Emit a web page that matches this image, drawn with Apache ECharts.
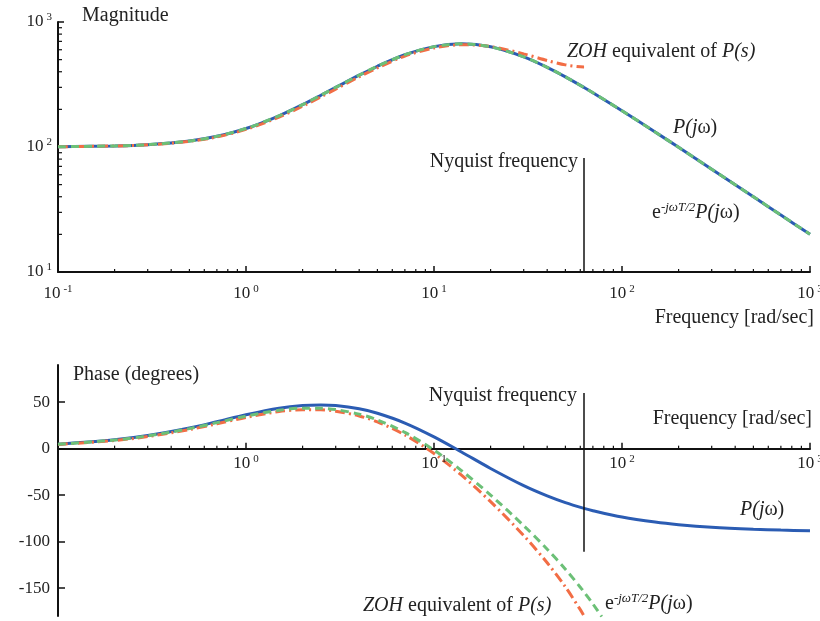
<!DOCTYPE html>
<html>
<head>
<meta charset="utf-8">
<script src="https://cdn.jsdelivr.net/npm/echarts@6/dist/echarts.min.js"></script>
<style>html,body{margin:0;padding:0;background:#fff}#c{width:820px;height:621px}</style>
</head>
<body>
<div id="c"></div>
<script>
// Frequencies (rad/sec) and values
const freqP = [0.1,0.2,0.3,0.5,0.7,1,1.5,2,2.5,3,4,5,7,10,14,20,30,40,50,62.83,70,100,150,200,300,500,700,1000];
const magP = [100.5,102.0,104.4,111.6,121.7,140.5,177.8,218.2,259.2,299.5,375.4,442.5,546.7,635.6,668.5,633,526.6,434,364,299.5,272,195,131.9,99.4,66.5,40.0,28.56,20.0];
const phaseP = [4.85,9.59,14.12,22.28,28.99,36.43,43.49,46.41,47.03,46.34,42.85,38.08,27.59,12.72,-3.54,-21.29,-39.79,-50.82,-58.04,-64.21,-66.74,-73.55,-78.98,-81.72,-84.47,-86.67,-87.62,-88.34];

const freqDelay = [0.1,0.2,0.3,0.5,0.7,1,1.5,2,2.5,3,4,5,7,10,14,20,30,40,50,60,62.83,70,78];
const phaseDelay = [4.71,9.30,13.69,21.56,27.99,35.00,41.34,43.55,43.45,42.04,37.12,30.92,17.56,-1.60,-23.59,-49.94,-82.76,-108.12,-129.66,-149.0,-154.2,-167.0,-180.7];

const freqZOH = [0.1,0.2,0.3,0.5,0.7,1,1.5,2,2.5,3,4,5,7,10,14,20,30,40,50,60,62.83];
const magZOH = [100.5,101.9,104.1,110.9,120.3,138.2,173.4,212.1,251.7,290.4,364.3,428.8,533.8,619.9,657.9,636.0,555.9,492.1,453.8,438.0,437.0];
const phaseZOH = [4.47,8.83,13.02,20.56,26.77,33.64,39.87,41.99,41.82,40.32,35.22,28.83,14.78,-5.23,-28.55,-57.0,-93.45,-122.78,-148.73,-173.18,-180.0];

const nyquist = 62.83;
const nyqMagSpan = [81.7, 10];
const nyqPhaseSpan = [60, -111];
const phaseTicks = [-150,-100,-50,0,50];

// tick values for the log axes
const minorFreqTicks = [0.2,0.3,0.4,0.5,0.6,0.7,0.8,0.9,2,3,4,5,6,7,8,9,20,30,40,50,60,70,80,90,200,300,400,500,600,700,800,900];
const minorMagTicks = [20,30,40,50,60,70,80,90,200,300,400,500,600,700,800,900];
const phaseFreqLabels = [1,10,100,1000];

const zip = (a,b) => a.map((v,i)=>[v,b[i]]);
const FONT = '"Liberation Serif", "Times New Roman", serif';
const BLUE = '#2b5cb3', GREEN = '#6cc077', ORANGE = '#f26d45';
const INK = '#111';

const powRich = {
  b: {fontFamily: FONT, fontSize: 17, color: '#222', lineHeight: 20},
  s: {fontFamily: FONT, fontSize: 11, color: '#222', verticalAlign: 'top', lineHeight: 12, padding: [0,0,0,3]}
};
const powFmt = v => '{b|10}{s|' + Math.round(Math.log10(v)) + '}';

function logX(grid, extra) {
  return Object.assign({
    type: 'log', logBase: 10, gridIndex: grid, min: 0.1, max: 1000,
    axisLine: {show: true, lineStyle: {color: INK, width: 2}},
    axisTick: {show: true, inside: true, length: 6, lineStyle: {color: INK, width: 1.5}},
    minorTick: {show: false},
    splitLine: {show: false},
    axisLabel: {formatter: powFmt, rich: powRich, margin: 12}
  }, extra || {});
}

// small tick marks drawn through the axes' own scales
function tickSeries(xi, yi, data, dx, dy) {
  return {
    type: 'custom', xAxisIndex: xi, yAxisIndex: yi, data: data, clip: false, silent: true, z: 10,
    renderItem: (params, api) => {
      const p = api.coord([api.value(0), api.value(1)]);
      return {type: 'line', shape: {x1: p[0], y1: p[1], x2: p[0] + dx, y2: p[1] + dy},
              style: {stroke: INK, lineWidth: 1.2}};
    }
  };
}

const chart = echarts.init(document.getElementById('c'));
const mainRich = {
  n: {fontFamily: FONT, fontSize: 20, color: '#222', lineHeight: 24},
  i: {fontFamily: FONT, fontSize: 20, color: '#222', fontStyle: 'italic', lineHeight: 24},
  si: {fontFamily: FONT, fontSize: 13, color: '#222', fontStyle: 'italic', verticalAlign: 'top', lineHeight: 14}
};
function txt(x, y, str, align) {
  return {type: 'text', x: x, y: y, style: {text: str, rich: mainRich, align: align || 'left', verticalAlign: 'middle', font: '20px ' + FONT, fill: '#222'}};
}
const ePj = '{n|e}{si|-jωT/2}{i|P(j}{n|ω)}';
const zoh = '{i|ZOH}{n| equivalent of }{i|P(s)}';
const pj = '{i|P(j}{n|ω)}';

chart.setOption({
  animation: false,
  backgroundColor: '#fff',
  grid: [
    {left: 58, right: 10, top: 22, bottom: 349, containLabel: false, outerBoundsMode: 'none'},
    {left: 58, right: 10, top: 365, bottom: 5, containLabel: false, outerBoundsMode: 'none'}
  ],
  xAxis: [
    logX(0),
    logX(1, {axisLine: {show: true, onZero: true, lineStyle: {color: INK, width: 2}}, axisLabel: {show: false}})
  ],
  yAxis: [
    {type: 'log', logBase: 10, gridIndex: 0, min: 10, max: 1000,
     axisLine: {show: true, lineStyle: {color: INK, width: 2}},
     axisTick: {show: true, inside: true, length: 6, lineStyle: {color: INK, width: 1.5}},
     minorTick: {show: false},
     splitLine: {show: false},
     axisLabel: {formatter: powFmt, rich: powRich, margin: 6}},
    {type: 'value', gridIndex: 1, min: -180, max: 90,
     axisLine: {show: true, onZero: false, lineStyle: {color: INK, width: 2}},
     axisTick: {show: true, inside: true, length: 7, customValues: phaseTicks, lineStyle: {color: INK, width: 1.5}},
     splitLine: {show: false},
     axisLabel: {customValues: phaseTicks, fontFamily: FONT, fontSize: 17, color: '#222', margin: 8}}
  ],
  series: [
    {type: 'line', name: 'P mag', xAxisIndex: 0, yAxisIndex: 0, data: zip(freqP, magP), smooth: 0.3, showSymbol: false, symbol: 'none',
     lineStyle: {color: BLUE, width: 3}, z: 2,
     markLine: {silent: true, symbol: 'none', label: {show: false}, lineStyle: {color: INK, width: 1.5, type: 'solid'},
       data: [[{coord: [nyquist, nyqMagSpan[0]]}, {coord: [nyquist, nyqMagSpan[1]]}]]}},
    {type: 'line', name: 'ZOH mag', xAxisIndex: 0, yAxisIndex: 0, data: zip(freqZOH, magZOH), smooth: 0.3, showSymbol: false, symbol: 'none',
     lineStyle: {color: ORANGE, width: 3, type: [10,4,2,4]}, z: 3},
    {type: 'line', name: 'delay mag', xAxisIndex: 0, yAxisIndex: 0, data: zip(freqP, magP), smooth: 0.3, showSymbol: false, symbol: 'none',
     lineStyle: {color: GREEN, width: 3, type: [8,5]}, z: 4},
    {type: 'line', name: 'P phase', xAxisIndex: 1, yAxisIndex: 1, data: zip(freqP, phaseP), smooth: 0.3, showSymbol: false, symbol: 'none',
     lineStyle: {color: BLUE, width: 3}, z: 2,
     markLine: {silent: true, symbol: 'none', label: {show: false}, lineStyle: {color: INK, width: 1.5, type: 'solid'},
       data: [[{coord: [nyquist, nyqPhaseSpan[0]]}, {coord: [nyquist, nyqPhaseSpan[1]]}]]}},
    {type: 'line', name: 'ZOH phase', xAxisIndex: 1, yAxisIndex: 1, data: zip(freqZOH, phaseZOH), smooth: 0.3, showSymbol: false, symbol: 'none',
     lineStyle: {color: ORANGE, width: 3, type: [10,4,2,4]}, z: 3},
    {type: 'line', name: 'delay phase', xAxisIndex: 1, yAxisIndex: 1, data: zip(freqDelay, phaseDelay), smooth: 0.3, showSymbol: false, symbol: 'none',
     lineStyle: {color: GREEN, width: 3, type: [8,5]}, z: 4},
    // minor ticks
    tickSeries(0, 0, minorFreqTicks.map(v => [v, 10]), 0, -3),
    tickSeries(0, 0, minorMagTicks.map(v => [0.1, v]), 4, 0),
    tickSeries(1, 1, minorFreqTicks.map(v => [v, 0]), 0, -3),
    // frequency labels under the zero line of the phase plot
    {type: 'custom', xAxisIndex: 1, yAxisIndex: 1, data: phaseFreqLabels.map(v => [v, 0]), clip: false, silent: true, z: 10,
     renderItem: (params, api) => {
       const p = api.coord([api.value(0), api.value(1)]);
       return {type: 'text', x: p[0], y: p[1] + 15,
               style: {text: powFmt(api.value(0)), rich: powRich, align: 'center', verticalAlign: 'middle', font: '17px ' + FONT, fill: '#222'}};
     }}
  ],
  graphic: [
    txt(82, 16, '{n|Magnitude}'),
    txt(567, 52, zoh),
    txt(673, 128, pj),
    txt(652, 213, ePj),
    txt(578, 162, '{n|Nyquist frequency}', 'right'),
    txt(814, 318, '{n|Frequency [rad/sec]}', 'right'),
    txt(73, 375, '{n|Phase (degrees)}'),
    txt(577, 396, '{n|Nyquist frequency}', 'right'),
    txt(812, 419, '{n|Frequency [rad/sec]}', 'right'),
    txt(740, 510, pj),
    txt(363, 606, zoh),
    txt(605, 604, ePj)
  ]
});
</script>
</body>
</html>
